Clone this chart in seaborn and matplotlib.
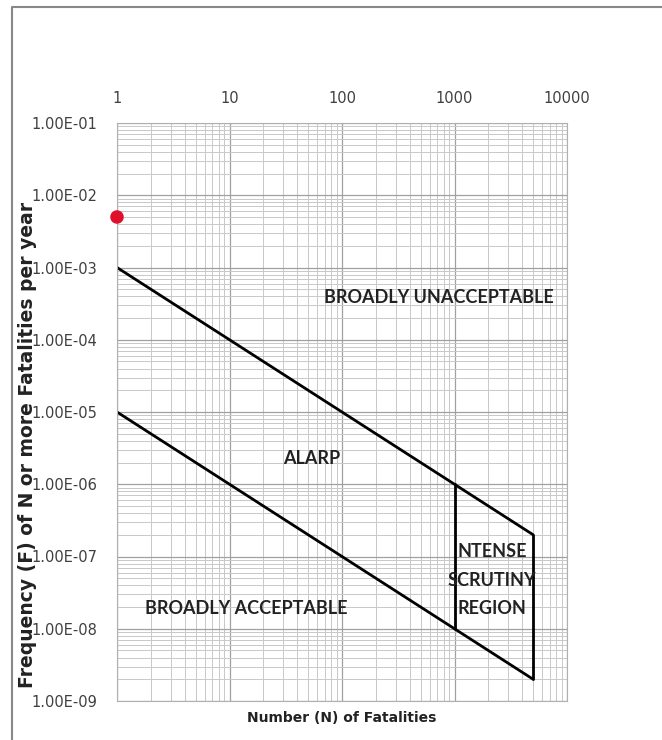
import numpy as np
import pandas as pd
import seaborn as sns
import matplotlib.pyplot as plt
from matplotlib.ticker import FixedLocator, NullFormatter
from matplotlib.lines import Line2D

# boundary lines of the F-N criterion (N, F)
upper_n = [1, 5000]
upper_f = [1e-3, 2e-7]
lower_n = [1, 5000]
lower_f = [1e-5, 2e-9]
scrutiny_left_n = [1000, 1000]
scrutiny_left_f = [1e-8, 1e-6]
scrutiny_right_n = [5000, 5000]
scrutiny_right_f = [2e-9, 2e-7]

# the assessed point
point_n = [1]
point_f = [5e-3]

x_ticks = [1, 10, 100, 1000, 10000]
y_ticks = [1e-1, 1e-2, 1e-3, 1e-4, 1e-5, 1e-6, 1e-7, 1e-8, 1e-9]

sns.set_style("white")
plt.rcParams['font.family'] = ['Lato', 'DejaVu Sans']

segs = []
for i, (n, f) in enumerate([(upper_n, upper_f), (lower_n, lower_f),
                            (scrutiny_left_n, scrutiny_left_f),
                            (scrutiny_right_n, scrutiny_right_f)]):
    for a, b in zip(n, f):
        segs.append({'seg': i, 'N': a, 'F': b})
lines = pd.DataFrame(segs)
pts = pd.DataFrame({'N': point_n, 'F': point_f})

fig = plt.figure(figsize=(6.62, 7.40), dpi=100)
ax = fig.add_axes([117/662, 1 - 701/740, 450/662, 578/740])
ax.set_xscale('log')
ax.set_yscale('log')

sns.lineplot(data=lines, x='N', y='F', units='seg', estimator=None, sort=False,
             color='black', linewidth=2, ax=ax, legend=False)
sns.scatterplot(data=pts, x='N', y='F', color='#e0102a', s=95, edgecolor='none',
                ax=ax, clip_on=False, zorder=5, legend=False)

ax.set_xlim(1, 10000)
ax.set_ylim(1e-9, 1e-1)

ax.xaxis.set_major_locator(FixedLocator(x_ticks))
ax.yaxis.set_major_locator(FixedLocator(y_ticks))
ax.set_xticklabels([str(v) for v in x_ticks])
ax.set_yticklabels(['%.2E' % v for v in y_ticks])
ax.xaxis.set_minor_formatter(NullFormatter())
ax.yaxis.set_minor_formatter(NullFormatter())
ax.xaxis.tick_top()
for lab in ax.get_xticklabels() + ax.get_yticklabels():
    lab.set_family('DejaVu Sans')
ax.tick_params(axis='both', which='both', length=0, labelsize=10.5,
               labelcolor='#404040')
ax.tick_params(axis='y', pad=14)
ax.tick_params(axis='x', pad=12)

ax.grid(True, which='major', color='#a0a0a0', linewidth=0.9)
ax.grid(True, which='minor', color='#c8c8c8', linewidth=0.7)
ax.set_axisbelow(True)
for s in ax.spines.values():
    s.set_color('#b0b0b0')
    s.set_linewidth(0.8)

ax.set_xlabel('')
ax.set_ylabel('')
fig.text(342/662, 1 - 718/740, 'Number (N) of Fatalities', ha='center', va='center',
         fontsize=10, fontweight='bold', color='#222222', family='DejaVu Sans')
fig.text(28/662, 1 - 445/740, 'Frequency (F) of N or more Fatalities per year',
         ha='center', va='center', rotation=90, fontsize=13.5,
         fontweight='bold', color='#222222', family='DejaVu Sans')

txt = dict(fontsize=13, fontweight='bold', color='#222222', ha='center', va='center')
ax.text(720, 3.8e-4, 'BROADLY UNACCEPTABLE', **txt)
ax.text(54, 2.3e-6, 'ALARP', **txt)
ax.text(14, 1.9e-8, 'BROADLY ACCEPTABLE', **txt)
ax.text(2150, 4.7e-8, 'NTENSE\nSCRUTINY\nREGION', linespacing=1.8, **txt)

# outer frame of the pasted chart
fig.add_artist(Line2D([12/662, 12/662, 1.0], [0.0, 1 - 7/740, 1 - 7/740],
                      transform=fig.transFigure, color='#888888', linewidth=1.5))

fig.savefig('out.png', dpi=100)
plt.close()
